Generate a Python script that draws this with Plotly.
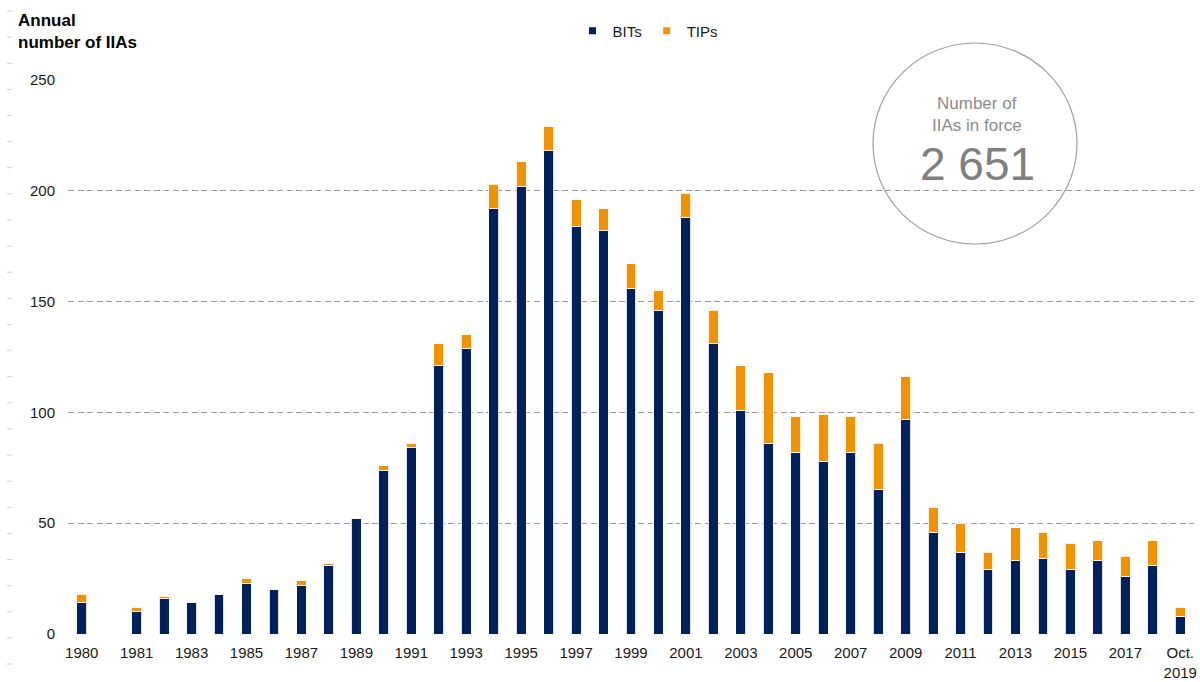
import plotly.graph_objects as go

# ---- data ----
categories = ["1980", " "] + [str(y) for y in range(1981, 2019)] + ["Oct. 2019"]
bits = [14, 0, 10, 16, 14, 18, 23, 20, 22, 31, 52, 74, 84, 121, 129, 192, 202, 218,
        184, 182, 156, 146, 188, 131, 101, 86, 82, 78, 82, 65, 97, 46, 37, 29, 33,
        34, 29, 33, 26, 31, 8]
tips = [4, 0, 2, 1, 0, 0, 2, 0, 2, 1, 0, 2, 2, 10, 6, 11, 11, 11,
        12, 10, 11, 9, 11, 15, 20, 32, 16, 21, 16, 21, 19, 11, 13, 8, 15,
        12, 12, 9, 9, 11, 4]
tick_vals = categories[::2]
tick_text = [c.replace("Oct. ", "Oct.<br>") for c in tick_vals]
total_in_force = "2 651"

NAVY = "#00205B"
ORANGE = "#F39200"
FONT = "Liberation Sans, Arial, sans-serif"

W, H = 1200, 682
ML, MR, MT, MB = 68, 6, 80, 48
pw = W - ML - MR
ph = H - MT - MB


def px2x(px):
    return (px - ML) / pw


def px2y(py):
    return (H - MB - py) / ph


fig = go.Figure()
fig.add_trace(go.Bar(x=categories, y=bits, name="BITs", marker_color=NAVY,
                     marker_line=dict(color="rgba(255,255,255,0.85)", width=1),
                     showlegend=False))
fig.add_trace(go.Bar(x=categories, y=tips, name="TIPs", marker_color=ORANGE,
                     marker_line=dict(color="rgba(255,255,255,0.85)", width=1),
                     showlegend=False))
# legend entries (small squares)
fig.add_trace(go.Scatter(x=[None], y=[None], mode="markers", name="BITs",
                         marker=dict(symbol="square", size=7, color=NAVY)))
fig.add_trace(go.Scatter(x=[None], y=[None], mode="markers", name="TIPs",
                         marker=dict(symbol="square", size=7, color=ORANGE)))

shapes = []
# faint left-edge dashes
for i in range(26):
    yy = 11 + i * 26.12
    shapes.append(dict(type="line", xref="paper", yref="paper",
                       x0=px2x(7), x1=px2x(12), y0=px2y(yy), y1=px2y(yy),
                       line=dict(color="#d0d0d0", width=1)))
# circle
shapes.append(dict(type="circle", xref="paper", yref="paper",
                   x0=px2x(873), x1=px2x(1077), y0=px2y(244), y1=px2y(43),
                   line=dict(color="#a0a0a0", width=1.2), fillcolor="rgba(255,255,255,0)",
                   layer="above"))

annotations = [
    dict(text="<b>Annual<br>number of IIAs</b>", xref="paper", yref="paper",
         x=px2x(16), y=px2y(9), xanchor="left", yanchor="top", showarrow=False,
         align="left", font=dict(family=FONT, size=17, color="#000000")),
    dict(text="Number of", xref="paper", yref="paper", x=px2x(977), y=px2y(103),
         xanchor="center", yanchor="middle", showarrow=False,
         font=dict(family=FONT, size=17, color="#8c8c8c")),
    dict(text="IIAs in force", xref="paper", yref="paper", x=px2x(977), y=px2y(125),
         xanchor="center", yanchor="middle", showarrow=False,
         font=dict(family=FONT, size=17, color="#8c8c8c")),
    dict(text=total_in_force, xref="paper", yref="paper", x=px2x(977), y=px2y(164),
         xanchor="center", yanchor="middle", showarrow=False,
         font=dict(family=FONT, size=46, color="#808080")),
]

fig.update_layout(
    width=W, height=H,
    margin=dict(l=ML, r=MR, t=MT, b=MB, autoexpand=False),
    barmode="stack", bargap=0.64,
    plot_bgcolor="white", paper_bgcolor="white",
    font=dict(family=FONT, size=15, color="#1a1a1a"),
    legend=dict(orientation="h", x=px2x(648), y=px2y(31), xanchor="center",
                yanchor="middle", font=dict(family=FONT, size=15, color="#1a1a1a"),
                itemwidth=30, tracegroupgap=0, traceorder="normal"),
    shapes=shapes, annotations=annotations,
    xaxis=dict(type="category", categoryorder="array", categoryarray=categories,
               range=[-0.5, len(categories) - 0.5], tickmode="array",
               tickvals=tick_vals, ticktext=tick_text, showgrid=False,
               ticks="", showline=True, linecolor="white", linewidth=1,
               ticklabelstandoff=5,
               tickfont=dict(family=FONT, size=15, color="#1a1a1a")),
    yaxis=dict(range=[0, 250], dtick=50, showgrid=True, gridcolor="#9a9a9a",
               griddash="6px,3.5px", gridwidth=1, zeroline=False, ticks="",
               ticklabelstandoff=12,
               tickfont=dict(family=FONT, size=15, color="#1a1a1a")),
)

fig.write_html("out.html", config={"displayModeBar": False},
               post_script="document.body.style.margin='0';document.body.style.overflow='hidden';")
